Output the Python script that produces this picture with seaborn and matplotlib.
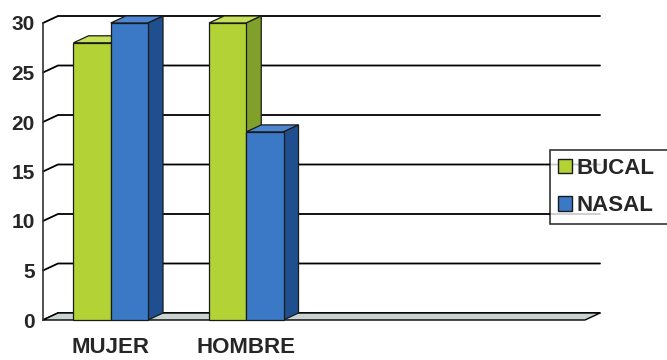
import matplotlib
matplotlib.use("Agg")
import matplotlib.pyplot as plt
import seaborn as sns
import pandas as pd
from matplotlib.patches import Polygon, Patch

categories = ["MUJER", "HOMBRE"]
series = ["BUCAL", "NASAL"]
bucal = [28, 30]
nasal = [30, 19]
yticks = [0, 5, 10, 15, 20, 25, 30]

df = pd.DataFrame({
    "cat": categories * 2,
    "serie": [series[0]] * 2 + [series[1]] * 2,
    "val": bucal + nasal,
})

front = {"BUCAL": "#b2d235", "NASAL": "#3b78c6"}
topc = {"BUCAL": "#c6e05a", "NASAL": "#4c86d0"}
sidec = {"BUCAL": "#7fa12a", "NASAL": "#1f4f8e"}

sns.set_style("white")
plt.rcParams["font.family"] = ["Liberation Sans", "DejaVu Sans"]

fig = plt.figure(figsize=(6.67, 3.6), dpi=100)
W, H = 667, 360
x0, x1 = 43, 585
yb, yt = 320, 23
ax = fig.add_axes([x0 / W, 1 - yb / H, (x1 - x0) / W, (yb - yt) / H])

sns.barplot(data=df, x="cat", y="val", hue="serie", order=categories,
            hue_order=series, palette=front, saturation=1, width=0.55, ax=ax,
            edgecolor="#1a1a1a", linewidth=0.9, legend=False)

ax.set_xlim(-0.5, 3.5)
ax.set_ylim(0, 30)

pxx = (x1 - x0) / 4.0
pxy = (yb - yt) / 30.0
dx = 15 / pxx
dy = 7 / pxy

bars = list(ax.patches)

# back wall gridlines with diagonal connectors
for v in yticks:
    ax.plot([-0.5, -0.5 + dx, 3.5 + dx], [v, v + dy, v + dy], color="black",
            lw=1.3, zorder=1, clip_on=False)

# floor
floor = Polygon([(-0.5, 0), (3.5, 0), (3.5 + dx, dy), (-0.5 + dx, dy)],
                closed=True, facecolor="#c9d3d2", edgecolor="black", lw=1.0,
                zorder=2, clip_on=False)
ax.add_patch(floor)

# 3D faces for bars, drawn left to right
order = sorted(range(len(bars)), key=lambda k: bars[k].get_x())
for rank, i in enumerate(order):
    p = bars[i]
    s = series[i // len(categories)]
    z = 3 + rank * 0.1
    x, w, h = p.get_x(), p.get_width(), p.get_height()
    top = Polygon([(x, h), (x + w, h), (x + w + dx, h + dy), (x + dx, h + dy)],
                  closed=True, facecolor=topc[s], edgecolor="#1a1a1a", lw=0.9,
                  zorder=z, clip_on=False)
    side = Polygon([(x + w, 0), (x + w + dx, dy), (x + w + dx, h + dy), (x + w, h)],
                   closed=True, facecolor=sidec[s], edgecolor="#1a1a1a", lw=0.9,
                   zorder=z, clip_on=False)
    p.set_zorder(z + 0.01)
    p.set_clip_on(False)
    ax.add_patch(top)
    ax.add_patch(side)

for sp in ["top", "right", "bottom"]:
    ax.spines[sp].set_visible(False)
ax.spines["left"].set_color("#333333")
ax.spines["left"].set_linewidth(1.2)

ax.set_yticks(yticks)
ax.set_yticklabels([str(v) for v in yticks], fontsize=15, fontweight="bold")
ax.tick_params(axis="y", direction="out", length=4, width=1.2, pad=2, color="#333333")

ax.set_xticks([0, 1])
ax.set_xticklabels(categories, fontsize=16, fontweight="bold")
ax.set_xticks([0.5, 1.5, 2.5, 3.5], minor=True)
ax.tick_params(axis="x", which="major", length=0, pad=12)
ax.tick_params(axis="x", which="minor", direction="out", length=5, width=1.2,
               color="#333333")
ax.set_xlabel("")
ax.set_ylabel("")
ax.grid(False)

handles = [Patch(facecolor=front[s], edgecolor="#1a1a1a", lw=1.0) for s in series]
leg = fig.legend(handles, series, loc="upper left",
                 bbox_to_anchor=(550 / W, 0, 130 / W, 1 - 150 / H), mode="expand",
                 borderaxespad=0, frameon=True, fancybox=False,
                 handlelength=0.65, handleheight=0.65,
                 handletextpad=0.2, labelspacing=0.75, borderpad=0.35,
                 prop={"weight": "bold", "size": 16})
leg.get_frame().set_edgecolor("black")
leg.get_frame().set_linewidth(1.2)

fig.savefig("out.png", dpi=100)
